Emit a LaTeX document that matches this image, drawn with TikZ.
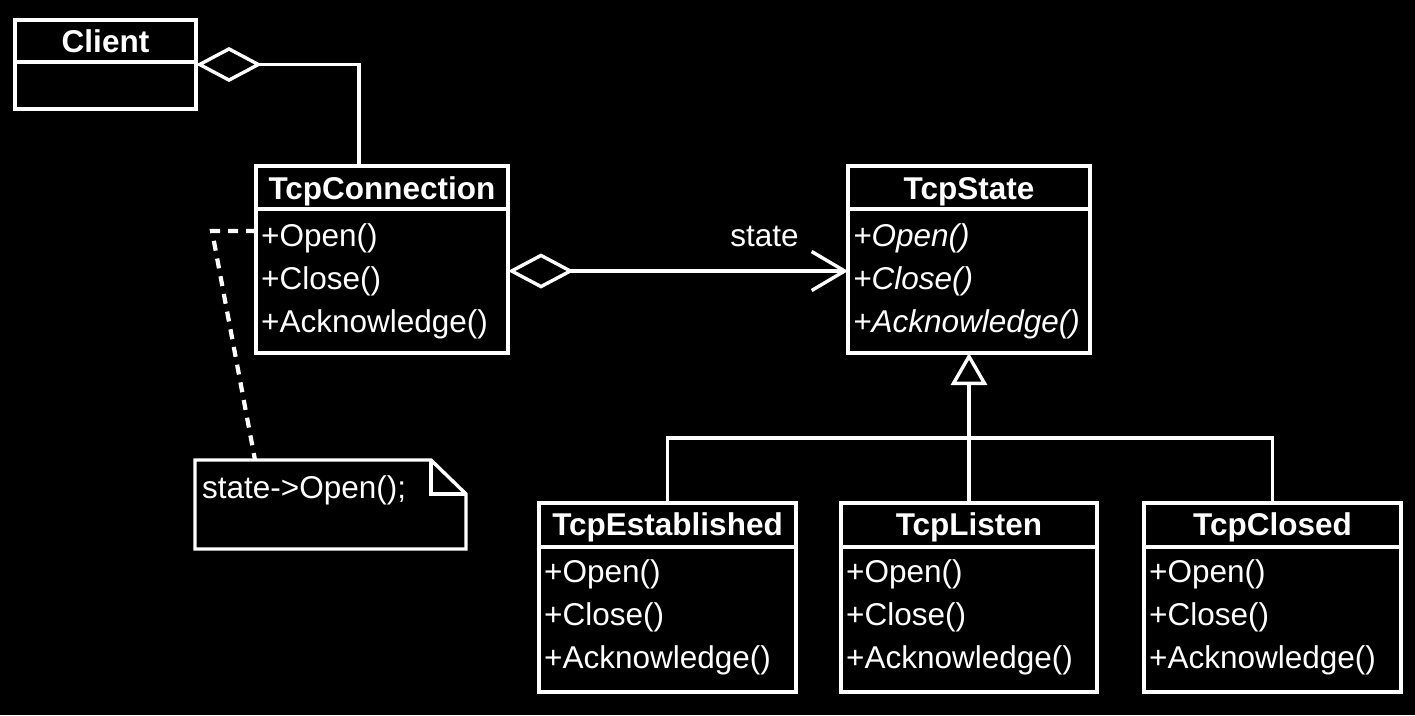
\documentclass[tikz,border=0pt]{standalone}
\usepackage{fontspec}
\setmainfont{Liberation Sans}
\usetikzlibrary{arrows.meta}
\newcommand\umlfs{\fontsize{31.5pt}{37pt}\selectfont}
\tikzset{
  ln/.style={draw=white, line width=3.4pt},
  cls/.style={ln, rectangle, anchor=north west, inner sep=0pt, outer sep=0pt},
  ttl/.style={text=white, inner sep=0pt, anchor=base, font=\bfseries\umlfs},
  mth/.style={text=white, inner sep=0pt, anchor=base west, font=\umlfs},
  amth/.style={mth, font=\itshape\umlfs},
  agg/.style={{Diamond[open, length=66pt, width=35pt]}-},
  dashline/.style={ln, line width=4.2pt, dash pattern=on 10pt off 8pt},
}
\begin{document}
\begin{tikzpicture}[x=1pt, y=-1pt]
\fill[black] (0,0) rectangle (1415,715);
\useasboundingbox (0,0) rectangle (1415,715);

% class boxes
\node[cls, minimum width=181pt, minimum height=89pt] (client) at (15,20) {};
\node[cls, minimum width=252pt, minimum height=187pt] (tcpconn) at (256,166) {};
\node[cls, minimum width=242pt, minimum height=187pt] (tcpstate) at (848,166) {};
\node[cls, minimum width=257pt, minimum height=189pt] (tcpest) at (539,503) {};
\node[cls, minimum width=256pt, minimum height=189pt] (tcplisten) at (841,503) {};
\node[cls, minimum width=257pt, minimum height=189pt] (tcpclosed) at (1144,503) {};

% dividers
\draw[ln] ([yshift=-42pt]client.north west) -- ([yshift=-42pt]client.north east);
\draw[ln] ([yshift=-43pt]tcpconn.north west) -- ([yshift=-43pt]tcpconn.north east);
\draw[ln] ([yshift=-43pt]tcpstate.north west) -- ([yshift=-43pt]tcpstate.north east);
\draw[ln] ([yshift=-44pt]tcpest.north west) -- ([yshift=-44pt]tcpest.north east);
\draw[ln] ([yshift=-44pt]tcplisten.north west) -- ([yshift=-44pt]tcplisten.north east);
\draw[ln] ([yshift=-44pt]tcpclosed.north west) -- ([yshift=-44pt]tcpclosed.north east);

% titles
\node[ttl] (clientT) at (105.5,52) {Client};
\node[ttl] (tcpconnT) at (382,199) {TcpConnection};
\node[ttl] (tcpstateT) at (969,199) {TcpState};
\node[ttl] (tcpestT) at (667.5,535) {TcpEstablished};
\node[ttl] (tcplistenT) at (969,535) {TcpListen};
\node[ttl] (tcpclosedT) at (1272.5,535) {TcpClosed};

% methods
\node[mth] (tcO) at (261,246) {+Open()};
\node[mth] (tcC) at (261,289) {+Close()};
\node[mth] (tcA) at (261,332) {+Acknowledge()};
\node[amth] (tsO) at (853,246) {+Open()};
\node[amth] (tsC) at (853,289) {+Close()};
\node[amth] (tsA) at (853,332) {+Acknowledge()};
\node[mth] (teO) at (544,582) {+Open()};
\node[mth] (teC) at (544,625) {+Close()};
\node[mth] (teA) at (544,668) {+Acknowledge()};
\node[mth] (tlO) at (846,582) {+Open()};
\node[mth] (tlC) at (846,625) {+Close()};
\node[mth] (tlA) at (846,668) {+Acknowledge()};
\node[mth] (tkO) at (1149,582) {+Open()};
\node[mth] (tkC) at (1149,625) {+Close()};
\node[mth] (tkA) at (1149,668) {+Acknowledge()};

% Client <>-- TcpConnection
\coordinate (tcTop) at (359,166);
\draw[ln, agg] (client.east) -| (tcTop);

% TcpConnection <>--> TcpState
\coordinate (rowState) at (0,271);
\draw[ln, {Diamond[open, length=66pt, width=35pt]}-{Straight Barb[length=33pt, width=39pt]}]
  (tcpconn.east |- rowState) -- (tcpstate.west |- rowState);
\node[text=white, inner sep=0pt, anchor=base, font=\umlfs] (stateL) at (764.5,246) {state};

% generalization
\coordinate (bar) at (969,438);
\draw[ln] (tcpest.north) |- (tcpclosed.north |- bar) -- (tcpclosed.north);
\draw[ln, -{Triangle[open, length=32pt, width=36pt]}] (tcplisten.north) -- (tcpstate.south);

% note
\draw[ln, line join=miter] (195,460) -- (431,460) -- (466,494) -- (466,549) -- (195,549) -- cycle;
\draw[ln] (431,460) -- (431,494) -- (466,494);
\node[mth] (noteT) at (202,498) {state->Open();};
\coordinate (noteTop) at (255,460);
\coordinate (dashKnee) at (212,231);
\coordinate (rowOpen) at (0,231);
\draw[dashline] (tcpconn.west |- rowOpen) -- (dashKnee) -- (noteTop);
\end{tikzpicture}
\end{document}
